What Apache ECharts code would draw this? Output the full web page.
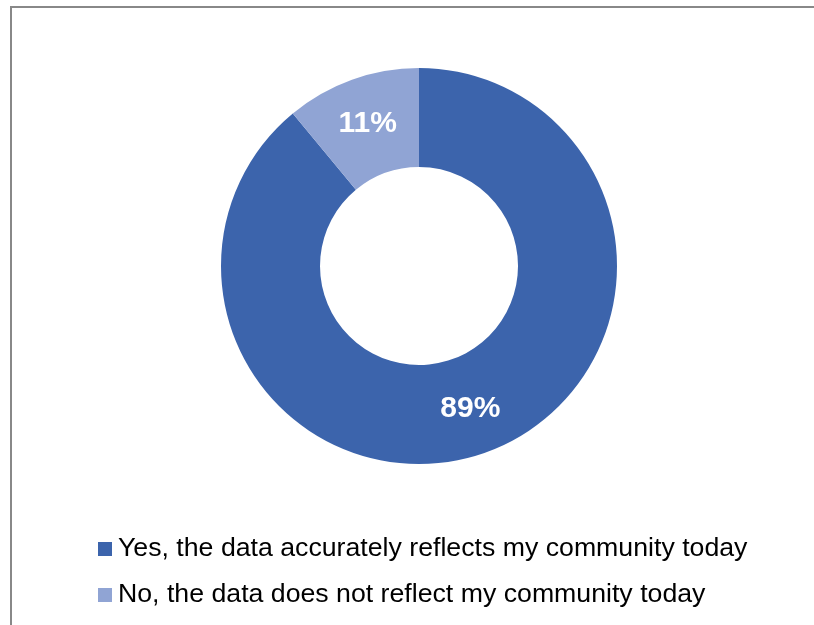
<!DOCTYPE html>
<html>
<head>
<meta charset="utf-8">
<script src="https://cdn.jsdelivr.net/npm/echarts@6/dist/echarts.min.js"></script>
<style>
  html, body { margin: 0; padding: 0; background: #fff; }
  #chart { width: 814px; height: 625px; }
</style>
</head>
<body>
<div id="chart"></div>
<script>
// ==================== DATA ====================
const answers = ['Yes, the data accurately reflects my community today', 'No, the data does not reflect my community today'];
const shares = [89, 11];
const colors = ['#3C64AC', '#90A4D4'];

const chart = echarts.init(document.getElementById('chart'));
chart.setOption({
  backgroundColor: '#fff',
  animation: false,
  textStyle: { fontFamily: 'Liberation Sans, Arial, sans-serif' },
  graphic: [{
    type: 'rect', silent: true,
    shape: { x: 11, y: 7, width: 900, height: 800 },
    style: { fill: 'none', stroke: '#888', lineWidth: 2 }
  }],
  legend: {
    orient: 'vertical', left: 98, top: 534, padding: 0,
    itemWidth: 14, itemHeight: 14, itemGap: 16,
    icon: 'rect',
    textStyle: { color: '#000', fontSize: 26.7, lineHeight: 30, padding: [0, 0, 0, 1] },
    data: answers
  },
  series: [{
    type: 'pie',
    center: [419, 266],
    radius: [99, 198],
    startAngle: 90,
    clockwise: true,
    label: {
      position: 'inside', color: '#fff', fontSize: 30, fontWeight: 'bold',
      formatter: p => p.value + '%'
    },
    labelLine: { show: false },
    emphasis: { disabled: true },
    data: answers.map((a, i) => ({ name: a, value: shares[i], itemStyle: { color: colors[i] } }))
  }]
});
</script>
</body>
</html>
